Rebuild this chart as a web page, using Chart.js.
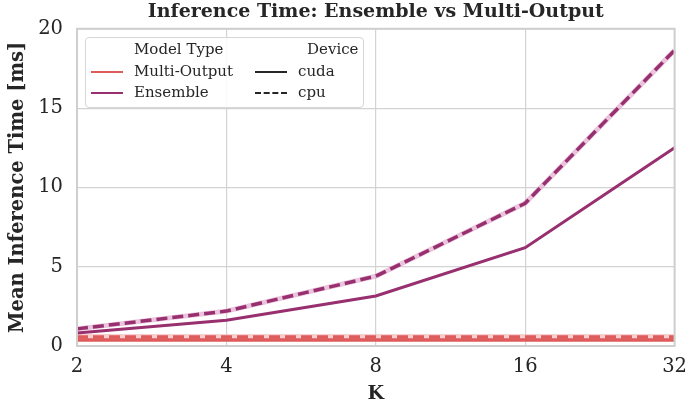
<!DOCTYPE html>
<html>
<head>
<meta charset="utf-8">
<script src="https://cdn.jsdelivr.net/npm/chart.js@4/dist/chart.umd.min.js"></script>
<style>
  html, body { margin: 0; padding: 0; background: #fff; }
  #wrap { position: relative; width: 696px; height: 404px; }
  #legend {
    position: absolute; left: 85px; top: 37px; width: 277px; height: 69px;
    background: rgba(255,255,255,0.85); border: 1px solid #d6d6d6; border-radius: 4px;
    font-family: "DejaVu Serif", serif; font-size: 15px; color: #262626;
  }
  #legend .t { position: absolute; white-space: nowrap; line-height: 18px; }
  #legend .h { position: absolute; height: 0; width: 32px; }
</style>
</head>
<body>
<div id="wrap">
  <canvas id="c" width="696" height="404"></canvas>
  <div id="legend"></div>
</div>
<script>
/* valeurs */
const K_LABELS = ['2', '4', '8', '16', '32'];
const ENSEMBLE_CUDA = [0.82, 1.62, 3.15, 6.2, 12.5];
const ENSEMBLE_CPU  = [1.08, 2.2, 4.4, 9.0, 18.65];
const MULTI_CUDA    = [0.38, 0.38, 0.38, 0.38, 0.38];
const MULTI_CPU     = [0.56, 0.56, 0.56, 0.56, 0.56];

const RED = '#de5b5b';
const PURPLE = '#982f6f';
const PINK_BAND = 'rgba(225,170,205,0.7)';
const RED_BAND = 'rgba(245,185,185,0.7)';
const FONT = '"DejaVu Serif", serif';
const DASH = [11, 5];

function line(data, color, dashed, width) {
  return {
    data, borderColor: color, backgroundColor: color,
    borderWidth: width || 3, borderDash: dashed ? DASH : [],
    pointRadius: 0, tension: 0, fill: false, borderCapStyle: 'butt',
  };
}

const frame = {
  id: 'frame',
  afterDatasetsDraw(chart) {
    const a = chart.chartArea, c = chart.ctx;
    c.save();
    c.strokeStyle = '#cfcfcf'; c.lineWidth = 2;
    c.strokeRect(a.left, a.top, a.right - a.left, a.bottom - a.top);
    c.restore();
  },
};

/* Chart.js dessine le dataset 0 en dernier : les bandes pâles vont à la fin */
new Chart(document.getElementById('c'), {
  type: 'line',
  data: {
    labels: K_LABELS,
    datasets: [
      line(MULTI_CUDA, RED, false, 3.5),
      line(MULTI_CPU, RED, true, 3.5),
      line(ENSEMBLE_CUDA, PURPLE, false, 3),
      line(ENSEMBLE_CPU, PURPLE, true, 3.5),
      line(MULTI_CPU, RED_BAND, false, 6),
      line(ENSEMBLE_CPU, PINK_BAND, false, 5),
    ],
  },
  options: {
    responsive: false, animation: false,
    layout: { padding: { left: 6, right: 12, top: 0, bottom: 0 } },
    plugins: {
      legend: { display: false },
      tooltip: { enabled: false },
      title: {
        display: true, text: 'Inference Time: Ensemble vs Multi-Output',
        fullSize: false,
        color: '#262626', font: { family: FONT, size: 19, weight: 'bold' },
        padding: { top: 1, bottom: 5 },
      },
    },
    scales: {
      x: {
        offset: false,
        grid: { color: '#d3d3d3', lineWidth: 1.2, drawTicks: false },
        border: { display: false },
        ticks: { color: '#262626', font: { family: FONT, size: 19.5 }, padding: 9, maxRotation: 0 },
        title: { display: true, text: 'K', color: '#262626', font: { family: FONT, size: 19, weight: 'bold', lineHeight: 1 }, padding: { top: 0, bottom: 0 } },
        afterFit: (s) => { s.height = 58; },
      },
      y: {
        min: 0, max: 20,
        grid: { color: '#d3d3d3', lineWidth: 1.2, drawTicks: false },
        border: { display: false },
        ticks: { stepSize: 5, color: '#262626', font: { family: FONT, size: 19.5 }, padding: 14 },
        title: { display: true, text: 'Mean Inference Time [ms]', color: '#262626', font: { family: FONT, size: 19.5, weight: 'bold', lineHeight: 1 }, padding: { top: 2, bottom: 0 } },
        afterFit: (s) => { s.width = 71; },
      },
    },
  },
  plugins: [frame],
});

/* légende à deux colonnes façon seaborn */
const legend = document.getElementById('legend');
const items = [
  { text: 'Model Type', x: 48, y: 2 },
  { text: 'Multi-Output', x: 48, y: 24, color: RED },
  { text: 'Ensemble', x: 48, y: 45, color: PURPLE },
  { text: 'Device', x: 221, y: 2 },
  { text: 'cuda', x: 212, y: 24, color: '#262626' },
  { text: 'cpu', x: 212, y: 45, color: '#262626', dashed: true },
];
items.forEach(it => {
  const t = document.createElement('div');
  t.className = 't'; t.textContent = it.text;
  t.style.left = it.x + 'px'; t.style.top = it.y + 'px';
  legend.appendChild(t);
  if (it.color) {
    const h = document.createElement('div');
    h.className = 'h';
    h.style.left = (it.x - 43) + 'px'; h.style.top = (it.y + 9) + 'px';
    h.style.borderTop = (it.color === '#262626' ? 2.5 : 2) + 'px ' + (it.dashed ? 'dashed ' : 'solid ') + it.color;
    legend.appendChild(h);
  }
});
</script>
</body>
</html>
